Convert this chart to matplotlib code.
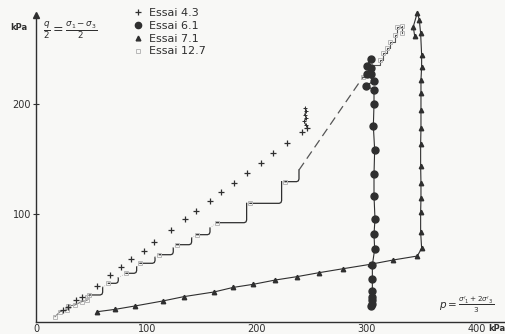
import matplotlib.pyplot as plt

# Essai 4.3 (crosses)
essai43_p = [23.6, 28.8, 35.8, 41.5, 54.5, 66.7, 76.7, 85.8, 97.6, 107.0, 122.1, 134.8,
             144.5, 157.6, 167.3, 179.4, 191.5, 203.9, 215.2, 227.9, 240.9, 246.1]
essai43_q = [13.0, 15.5, 22.1, 25.2, 34.8, 44.8, 52.4, 59.1, 67.0, 75.2, 85.8, 95.5,
             103.0, 112.1, 120.0, 128.8, 137.9, 147.0, 156.1, 164.5, 175.2, 178.8]
# the small cluster on top of Essai 4.3
essai43_top_p = [244.5, 243.2, 245.3, 243.6, 244.8, 244.0]
essai43_top_q = [181.5, 184.5, 187.5, 190.5, 193.5, 196.5]

# Essai 6.1 (filled circles)
essai61_p = [304.2, 304.5, 305.2, 304.8, 305.2, 305.2, 305.2, 307.3, 306.7, 307.6,
             306.7, 306.7, 307.3, 306.1, 306.7, 306.7, 299.4, 306.7, 300.0, 303.6,
             303.6, 300.0, 303.6]
essai61_q = [16.7, 18.5, 22.1, 25.2, 30.3, 41.2, 53.9, 68.2, 81.8, 95.8,
             116.7, 136.4, 158.5, 180.3, 200.0, 213.0, 217.0, 221.2, 227.6, 227.6,
             232.7, 234.8, 240.9]

# Essai 7.1 (triangles)
essai71_p = [55.2, 71.2, 89.4, 114.5, 133.9, 161.2, 178.8, 197.0, 217.0, 236.4, 257.0,
             278.8, 303.0, 324.2, 346.1, 350.0, 349.1, 349.1, 349.4, 349.4, 349.1, 349.1,
             349.4, 349.4, 349.4, 349.4, 350.0, 350.0, 349.1, 347.9, 346.1, 342.4, 343.6]
essai71_q = [11.5, 13.6, 16.7, 21.2, 25.2, 29.4, 33.6, 36.4, 40.3, 43.3, 47.0,
             50.6, 54.5, 58.5, 62.1, 69.1, 84.2, 101.8, 114.5, 128.2, 144.2, 163.6,
             178.2, 194.8, 210.0, 222.1, 234.2, 244.8, 264.5, 276.7, 283.3, 270.6, 262.5]

# Essai 12.7 (open squares) : loading steps, then dashed part, then top steps
steps_p0 = [47.9, 65.2, 81.2, 93.9, 111.5, 127.3, 145.5, 163.6, 193.9, 225.8]
steps_q0 = [26.7, 37.3, 46.4, 55.5, 63.3, 72.4, 81.5, 92.4, 110.0, 129.7]
steps_p1 = [60.0, 74.2, 90.9, 107.6, 124.2, 140.9, 157.6, 190.9, 222.7, 238.5]
steps_q1 = [33.6, 42.4, 52.4, 60.9, 69.4, 78.5, 87.6, 110.0, 129.7, 140.3]
essai127_low_p = [16.7, 21.2, 27.3, 28.8, 34.5, 40.9, 46.1, 46.1]
essai127_low_q = [7.0, 11.5, 13.0, 16.7, 17.5, 20.6, 22.1, 25.2]
essai127_dash_p = [238.5, 297.0]
essai127_dash_q = [140.3, 225.2]
essai127_top_p = [297.0, 303.0, 312.1, 315.2, 318.2, 321.2, 325.8, 327.3, 331.8, 331.8]
essai127_top_q = [225.2, 235.8, 240.3, 246.4, 250.9, 257.0, 263.0, 270.6, 271.2, 264.5]

ink = '#2f2f2f'
faint = '#b8b8b8'

fig = plt.figure(figsize=(5.06, 3.34), dpi=100)
fig.patch.set_facecolor('#f8f8f6')
ax = fig.add_axes([36 / 506, 12.3 / 334, 469 / 506, 312 / 334])
ax.set_facecolor('none')
ax.set_xlim(-0.6, 425.8)
ax.set_ylim(2.4, 286)

# Essai 12.7
ax.plot(essai127_low_p, essai127_low_q, color='#777777', lw=0.8, marker='s', ms=3,
        mfc='none', mec=faint, mew=0.7)
prev = (essai127_low_p[-1], essai127_low_q[-1])
for x0, y0, x1, y1 in zip(steps_p0, steps_q0, steps_p1, steps_q1):
    ax.plot([prev[0], x0], [prev[1], y0], color=faint, lw=0.6, ls=':')
    ax.plot([x0, x1 - 2.2, x1 - 0.6, x1, x1], [y0, y0, y0 + 0.7, y0 + 2.4, y1],
            color=ink, lw=0.9)
    ax.plot(x0, y0, marker='s', ms=3.2, mfc='none', mec=faint, mew=0.7)
    prev = (x1, y1)
ax.plot(essai127_dash_p, essai127_dash_q, color='#555555', lw=0.9, dashes=(7, 4))
ax.plot(essai127_top_p, essai127_top_q, color='#555555', lw=0.8, drawstyle='steps-post',
        marker='s', ms=3.2, mfc='none', mec=faint, mew=0.7)

# Essai 7.1
ax.plot(essai71_p, essai71_q, color=ink, lw=0.8, marker='^', ms=3.2, mfc=ink, mec=ink)

# Essai 6.1
ax.plot(essai61_p, essai61_q, color=ink, lw=0.8, marker='o', ms=5, mfc=ink, mec=ink)

# Essai 4.3
ax.plot(essai43_p, essai43_q, ls='none', marker='+', ms=5, mew=0.9, color=ink)
ax.plot(essai43_top_p, essai43_top_q, color=ink, lw=0.7, marker='+', ms=2.5, mew=0.7)

# legend
handles = [
    plt.Line2D([], [], ls='none', marker='+', ms=5, mew=0.9, color=ink),
    plt.Line2D([], [], ls='none', marker='o', ms=4.5, color=ink),
    plt.Line2D([], [], ls='none', marker='^', ms=3.4, color=ink),
    plt.Line2D([], [], ls='none', marker='s', ms=3.4, mfc='none', mec=faint, mew=0.7),
]
labels = ['Essai 4.3', 'Essai 6.1', 'Essai 7.1', 'Essai 12.7']
leg = ax.legend(handles, labels, loc='upper left', bbox_to_anchor=(0.21, 1.005),
                frameon=False, fontsize=8, handlelength=0.7, handletextpad=0.6,
                labelspacing=0.25, borderpad=0, borderaxespad=0)
for t in leg.get_texts():
    t.set_color(ink)

# axes styling
for s in ['top', 'right']:
    ax.spines[s].set_visible(False)
for s in ['left', 'bottom']:
    ax.spines[s].set_color(ink)
    ax.spines[s].set_linewidth(1.0)
ax.spines['left'].set_bounds(2.4, 281)
ax.plot([-0.6], [281], marker='^', ms=4, color=ink, clip_on=False)

ax.set_xticks([0, 100, 200, 300, 400])
ax.set_yticks([100, 200])
ax.tick_params(axis='x', length=0, pad=1.5, labelsize=7, colors=ink)
ax.tick_params(axis='y', direction='inout', length=4, width=0.8, pad=1.5,
               labelsize=7, colors=ink)

ax.text(-0.036, 0.943, 'kPa', transform=ax.transAxes, fontsize=6, fontweight='bold',
        color=ink, ha='center', va='center')
ax.text(0.014, 0.935, r'$\frac{q}{2}=\frac{\sigma_1 - \sigma_3}{2}$', transform=ax.transAxes,
        fontsize=9, color=ink, ha='left', va='center')
ax.text(0.86, 0.055, r"$p=\frac{\sigma'_1 + 2\sigma'_3}{3}$", transform=ax.transAxes,
        fontsize=7.5, color=ink, ha='left', va='center')
ax.text(0.983, -0.021, 'kPa', transform=ax.transAxes, fontsize=6, fontweight='bold',
        color=ink, ha='center', va='center')

fig.savefig('out.png', dpi=100, facecolor=fig.get_facecolor())
